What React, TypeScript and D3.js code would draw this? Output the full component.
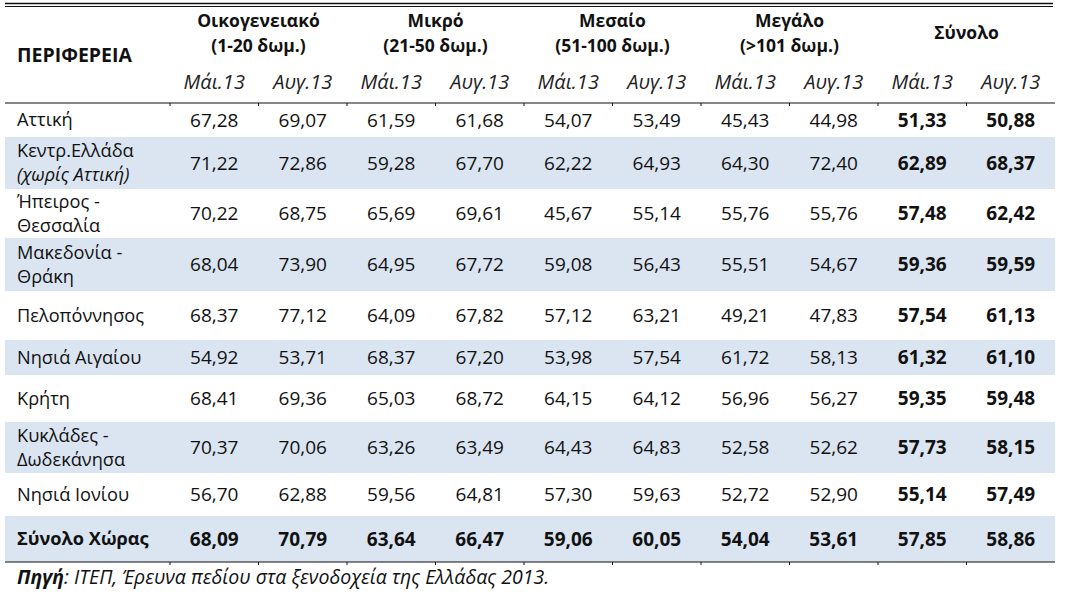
import * as d3 from 'd3'

// Region labels (one entry per text line)
const regions = [
  ['Αττική'],
  ['Κεντρ.Ελλάδα', '(χωρίς Αττική)'],
  ['Ήπειρος -', 'Θεσσαλία'],
  ['Μακεδονία -', 'Θράκη'],
  ['Πελοπόννησος'],
  ['Νησιά Αιγαίου'],
  ['Κρήτη'],
  ['Κυκλάδες -', 'Δωδεκάνησα'],
  ['Νησιά Ιονίου'],
  ['Σύνολο Χώρας'],
]
const groups = [
  ['Οικογενειακό', '(1-20 δωμ.)'],
  ['Μικρό', '(21-50 δωμ.)'],
  ['Μεσαίο', '(51-100 δωμ.)'],
  ['Μεγάλο', '(>101 δωμ.)'],
  ['Σύνολο'],
]
const periods = ['Μάι.13', 'Αυγ.13']

const familyMay = [67.28, 71.22, 70.22, 68.04, 68.37, 54.92, 68.41, 70.37, 56.7, 68.09]
const familyAug = [69.07, 72.86, 68.75, 73.9, 77.12, 53.71, 69.36, 70.06, 62.88, 70.79]
const smallMay = [61.59, 59.28, 65.69, 64.95, 64.09, 68.37, 65.03, 63.26, 59.56, 63.64]
const smallAug = [61.68, 67.7, 69.61, 67.72, 67.82, 67.2, 68.72, 63.49, 64.81, 66.47]
const mediumMay = [54.07, 62.22, 45.67, 59.08, 57.12, 53.98, 64.15, 64.43, 57.3, 59.06]
const mediumAug = [53.49, 64.93, 55.14, 56.43, 63.21, 57.54, 64.12, 64.83, 59.63, 60.05]
const largeMay = [45.43, 64.3, 55.76, 55.51, 49.21, 61.72, 56.96, 52.58, 52.72, 54.04]
const largeAug = [44.98, 72.4, 55.76, 54.67, 47.83, 58.13, 56.27, 52.62, 52.9, 53.61]
const totalMay = [51.33, 62.89, 57.48, 59.36, 57.54, 61.32, 59.35, 57.73, 55.14, 57.85]
const totalAug = [50.88, 68.37, 62.42, 59.59, 61.13, 61.1, 59.48, 58.15, 57.49, 58.86]

const columns = [familyMay, familyAug, smallMay, smallAug, mediumMay, mediumAug, largeMay, largeAug, totalMay, totalAug]

// layout
const width = 1072
const height = 603
const left = 5
const firstColRight = 170
const right = 1055
const headerTop = 103
const rowHeights = [34, 52, 49, 53, 49, 35, 47, 51, 43, 46]
const font = "'Open Sans', sans-serif"
const fill = '#dbe5f1'
const ink = '#111'

const fmt = d3.formatLocale({ decimal: ',', thousands: '.', grouping: [3], currency: ['', '€'] }).format('.2f')

const x = d3.scaleBand<number>().domain(d3.range(columns.length)).range([firstColRight, right])
const rowEdges = [headerTop, ...Array.from(d3.cumsum(rowHeights), (h) => headerTop + h)]
const bottom = rowEdges[rowEdges.length - 1]
const ticks = d3.range(columns.length).map((i) => x(i)!)

function App() {
  return (
    <svg width={width} height={height} style={{ position: 'absolute', left: 0, top: 0, fontFamily: font }}>
      <rect width={width} height={height} fill="#fff" />
      {/* top double rule */}
      <line x1={left} x2={right - 2} y1={3.5} y2={3.5} stroke={ink} strokeWidth={1.5} />
      <line x1={left} x2={right - 2} y1={6.5} y2={6.5} stroke={ink} strokeWidth={1} />

      {/* header */}
      <text x={17} y={62} fontSize={19.5} fontWeight="bold" fill={ink}>ΠΕΡΙΦΕΡΕΙΑ</text>
      {groups.map((g, gi) => {
        const cx = (x(gi * 2)! + x(gi * 2 + 1)! + x.bandwidth()) / 2
        return g.length === 1 ? (
          <text key={gi} x={cx} y={39} textAnchor="middle" fontSize={17.5} fontWeight="bold" fill={ink}>{g[0]}</text>
        ) : (
          g.map((t, li) => (
            <text key={gi + '-' + li} x={cx} y={27 + li * 25} textAnchor="middle" fontSize={17.5} fontWeight="bold" fill={ink}>{t}</text>
          ))
        )
      })}
      {columns.map((_, i) => (
        <text key={i} x={x(i)! + x.bandwidth() / 2} y={89} textAnchor="middle" fontSize={20} fontStyle="italic" fill="#222">
          {periods[i % 2]}
        </text>
      ))}

      {/* shaded rows */}
      {rowHeights.map((h, r) =>
        r % 2 === 1 ? <rect key={r} x={left} y={rowEdges[r]} width={right - left} height={h} fill={fill} /> : null
      )}

      {/* rules */}
      {[headerTop, bottom].map((y) => (
        <g key={y}>
          <line x1={left} x2={right} y1={y} y2={y} stroke={ink} strokeWidth={1.2} />
          {ticks.map((t) => (
            <line key={t} x1={t} x2={t} y1={y} y2={y + 3} stroke={ink} strokeWidth={1} />
          ))}
        </g>
      ))}

      {/* body */}
      {regions.map((lines, r) => {
        const cy = (rowEdges[r] + rowEdges[r + 1]) / 2
        const isTotal = r === regions.length - 1
        return (
          <g key={r}>
            {lines.map((t, li) => (
              <text
                key={li}
                x={17}
                y={cy + (li - (lines.length - 1) / 2) * 24}
                dy="0.35em"
                fontSize={18.2}
                fontWeight={isTotal ? 'bold' : 'normal'}
                fontStyle={t.startsWith('(') ? 'italic' : 'normal'}
                fill={ink}
              >
                {t}
              </text>
            ))}
            {columns.map((col, c) => (
              <text
                key={c}
                x={x(c)! + x.bandwidth() / 2}
                y={cy}
                dy="0.35em"
                textAnchor="middle"
                fontSize={19}
                fontWeight={isTotal || c >= 8 ? 'bold' : 'normal'}
                fill={ink}
              >
                {fmt(col[r])}
              </text>
            ))}
          </g>
        )
      })}

      {/* source */}
      <text x={17} y={584} fontSize={19.5} fontStyle="italic" fill={ink}>
        <tspan fontWeight="bold">Πηγή</tspan>: ΙΤΕΠ, Έρευνα πεδίου στα ξενοδοχεία της Ελλάδας 2013.
      </text>
    </svg>
  )
}

export default App
